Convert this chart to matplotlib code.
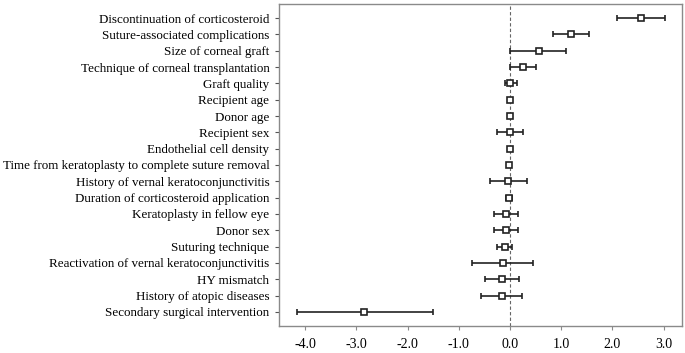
import matplotlib
matplotlib.use("Agg")
import matplotlib.pyplot as plt

# Dados do forest plot
fatores = [
    "Discontinuation of corticosteroid",
    "Suture-associated complications",
    "Size of corneal graft",
    "Technique of corneal transplantation",
    "Graft quality",
    "Recipient age",
    "Donor age",
    "Recipient sex",
    "Endothelial cell density",
    "Time from keratoplasty to complete suture removal",
    "History of vernal keratoconjunctivitis",
    "Duration of corticosteroid application",
    "Keratoplasty in fellow eye",
    "Donor sex",
    "Suturing technique",
    "Reactivation of vernal keratoconjunctivitis",
    "HY mismatch",
    "History of atopic diseases",
    "Secondary surgical intervention",
]
estimativa = [2.56, 1.19, 0.56, 0.26, 0.01, 0.01, 0.0, 0.0, 0.0, -0.01,
              -0.03, -0.01, -0.08, -0.08, -0.09, -0.14, -0.16, -0.16, -2.85]
ic_inf = [2.09, 0.84, 0.01, 0.01, -0.10, 0.00, -0.01, -0.26, -0.01, -0.02,
          -0.38, -0.08, -0.31, -0.32, -0.25, -0.74, -0.48, -0.57, -4.16]
ic_sup = [3.03, 1.55, 1.09, 0.51, 0.14, 0.02, 0.01, 0.26, 0.01, 0.00,
          0.33, 0.04, 0.15, 0.16, 0.05, 0.46, 0.18, 0.24, -1.50]
xticks = [-4.0, -3.0, -2.0, -1.0, 0.0, 1.0, 2.0, 3.0]

plt.rcParams["font.family"] = ["Liberation Serif", "DejaVu Serif"]

fig = plt.figure(figsize=(6.85, 3.53), dpi=100, facecolor="white")
ax = fig.add_axes([0.4073, 0.0765, 0.5883, 0.9122])

posicoes = list(range(len(fatores)))
erro_inf = [e - l for e, l in zip(estimativa, ic_inf)]
erro_sup = [u - e for e, u in zip(estimativa, ic_sup)]

# Linha de referência em zero
ax.axvline(0, color="#666666", linestyle=(0, (3, 2)), linewidth=0.8, zorder=1)

ax.errorbar(
    estimativa, posicoes,
    xerr=[erro_inf, erro_sup],
    fmt="s",
    markersize=5,
    markerfacecolor="white",
    markeredgecolor="#222222",
    markeredgewidth=1.2,
    ecolor="#222222",
    elinewidth=1.2,
    capsize=2,
    capthick=1.2,
    zorder=3,
)

ax.set_yticks(posicoes)
ax.set_yticklabels(fatores, fontsize=9.4)
ax.set_ylim(len(fatores) - 1 + 0.86, -0.86)

ax.set_xticks(xticks)
ax.set_xticklabels([f"{t:.1f}" for t in xticks], fontsize=10)
ax.set_xlim(-4.51, 3.36)

for lado in ax.spines.values():
    lado.set_color("#8a8a8a")
    lado.set_linewidth(1.0)

ax.tick_params(axis="y", length=3, width=0.8, color="#555555", pad=4)
ax.tick_params(axis="x", length=3, width=0.8, color="#8a8a8a", pad=6)

fig.savefig("out.png", dpi=100)
